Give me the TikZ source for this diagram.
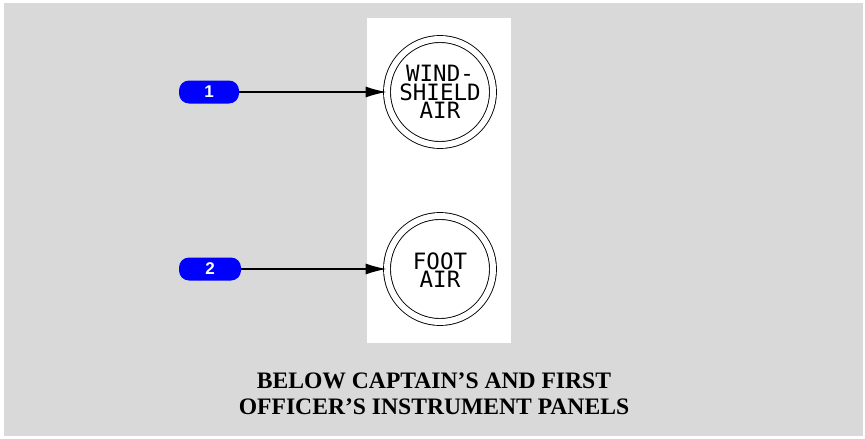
\documentclass[tikz,border=0pt]{standalone}
\usepackage{fontspec}
\setmainfont{Liberation Serif}
\newfontfamily\badgefont{Liberation Sans}
\newfontfamily\panelfont{DejaVu Sans Mono}
\usetikzlibrary{arrows.meta}
\definecolor{bggrey}{HTML}{D9D9D9}
\definecolor{badgeblue}{HTML}{0000FF}
\tikzset{
  badge/.style={fill=badgeblue, rounded corners=10pt, minimum width=60pt, minimum height=23pt, inner sep=0pt,
    text=white, font=\badgefont\bfseries\fontsize{17}{17}\selectfont},
  knob/.style={circle, draw, line width=0.9pt, minimum size=106pt, inner sep=0pt, fill=white,
    double, double distance=6pt},
  knobtext/.style={font=\panelfont\fontsize{22.5}{18.5}\selectfont, align=center, inner sep=0pt},
  conn/.style={line width=1.4pt, -{Latex[length=21pt,width=11pt]}},
  caption/.style={font=\bfseries\fontsize{23.6}{26}\selectfont, align=center}
}
\begin{document}
\begin{tikzpicture}[x=1pt,y=-1pt]
\useasboundingbox (0,0) rectangle (865,439);
\fill[white] (0,0) rectangle (865,439);
\fill[bggrey] (4,3) rectangle (863,436);
\fill[white] (367,18) rectangle (511,343);
\node[knob] (k1) at (440,92) {};
\node[knobtext] (t1) at (440,92) {WIND-\\SHIELD\\AIR};
\node[knob] (k2) at (440,269) {};
\node[knobtext] (t2) at (440,270) {FOOT\\AIR};
\node[badge] (b1) at (209,92) {1};
\node[badge, minimum width=62pt] (b2) at (210,269) {2};
\draw[conn] (b1.east) -- (k1.west);
\draw[conn] (b2.east) -- (k2.west);
\node[caption] (cap) at (434,394) {BELOW CAPTAIN’S AND FIRST\\OFFICER’S INSTRUMENT PANELS};
\end{tikzpicture}
\end{document}
